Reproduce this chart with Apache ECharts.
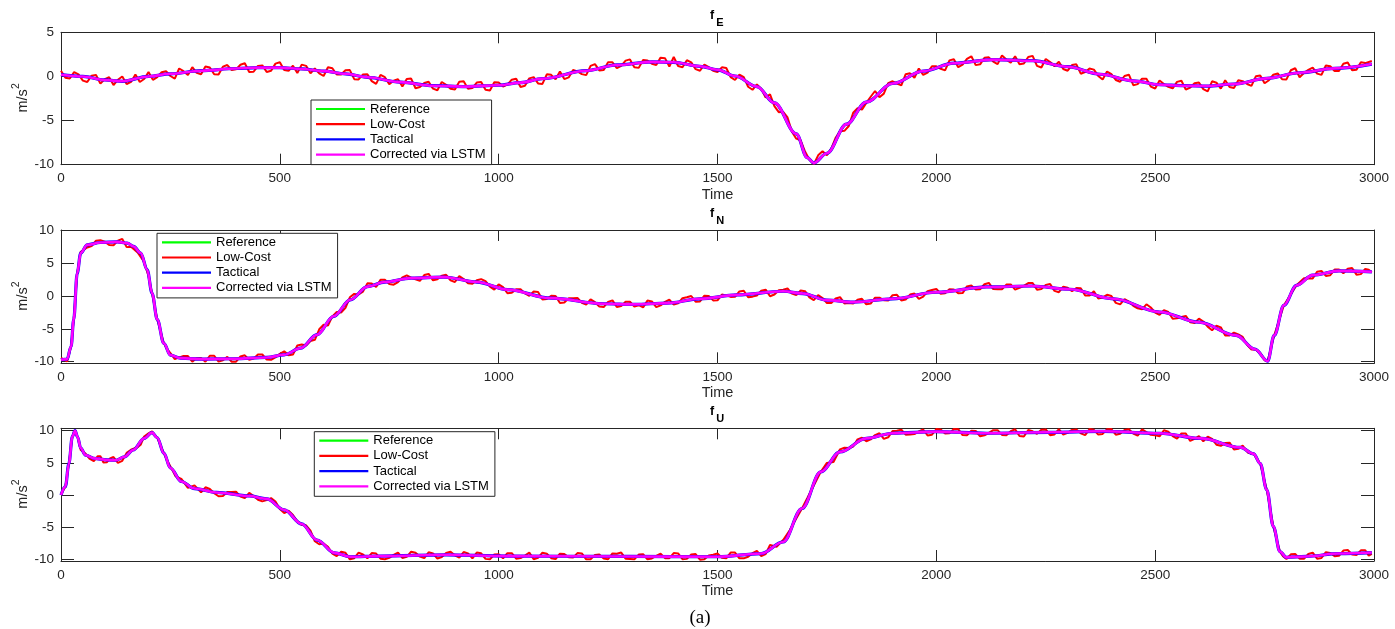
<!DOCTYPE html>
<html>
<head>
<meta charset="utf-8">
<script src="https://cdn.jsdelivr.net/npm/echarts@6.0.0/dist/echarts.min.js"></script>
<style>
  html, body { margin: 0; padding: 0; background: #ffffff; }
  #chart { width: 1395px; height: 629px; }
</style>
</head>
<body>
<div id="chart"></div>
<script>
// ---------------- DATA ----------------
const seriesNames = ['Reference', 'Low-Cost', 'Tactical', 'Corrected via LSTM'];
const panelTitles = [['f', 'E'], ['f', 'N'], ['f', 'U']];
const xTicks = [0, 500, 1000, 1500, 2000, 2500, 3000];
const yTicksE = [-10, -5, 0, 5];
const yTicksN = [-10, -5, 0, 5, 10];
const yTicksU = [-10, -5, 0, 5, 10];

// f_E : smooth reference trajectory (time, value)
const timeE = [0,50,100,140,200,250,320,400,450,500,550,600,650,700,775,850,925,1000,1050,1100,1200,1270,1350,1400,1460,1500,1540,1590,1630,1680,1705,1720,1750,1795,1840,1900,1970,2040,2130,2220,2300,2375,2450,2510,2565,2620,2680,2755,2830,2910,2995];
const fE_reference = [0.2,0.0,-0.4,-0.55,0.0,0.3,0.65,0.9,1.0,1.0,0.85,0.6,0.3,-0.1,-0.65,-1.05,-1.15,-1.0,-0.7,-0.25,0.65,1.3,1.65,1.6,1.15,0.75,0.05,-1.15,-3.0,-6.5,-9.2,-9.8,-8.7,-5.4,-2.9,-0.8,0.6,1.5,1.9,1.78,1.1,0.25,-0.5,-0.94,-1.05,-1.09,-0.86,-0.22,0.42,0.91,1.4];
const fE_tactical = fE_reference;
const fE_lstm = fE_reference;
// f_E : noisy low-cost IMU samples (time, value)
const fE_lowcost = [[0,0.65],[20,-0.23],[40,0.24],[60,-0.63],[80,0.16],[100,-0.3],[120,-0.98],[140,0.0],[160,-0.62],[180,-0.63],
[200,0.5],[220,-0.08],[240,0.59],[260,-0.25],[280,0.6],[300,1.05],[320,0.25],[340,1.01],[360,0.23],[380,1.29],
[400,0.8],[420,1.49],[440,0.53],[460,1.25],[480,0.65],[500,1.6],[520,0.64],[540,0.38],[560,1.2],[580,0.9],
[600,0.05],[620,0.93],[640,0.21],[660,0.72],[680,-0.34],[700,0.25],[720,-0.85],[740,-0.09],[760,-0.49],[780,-1.13],
[800,-0.24],[820,-1.19],[840,-0.6],[860,-1.56],[880,-0.94],[900,-1.47],[920,-0.55],[940,-1.32],[960,-0.63],[980,-1.59],
[1000,-0.7],[1020,-0.93],[1040,-0.26],[1060,-1.06],[1080,-0.08],[1100,-0.85],[1120,0.18],[1140,0.56],[1160,-0.11],[1180,0.57],
[1200,0.15],[1220,1.39],[1240,0.72],[1260,1.61],[1280,1.19],[1300,1.93],[1320,0.97],[1340,1.81],[1360,1.29],[1380,2.07],
[1400,2.2],[1420,1.05],[1440,1.6],[1460,0.65],[1480,1.05],[1500,0.5],[1520,0.95],[1540,-0.4],[1560,-0.08],[1580,-1.51],
[1600,-1.41],[1620,-2.04],[1640,-4.05],[1660,-4.65],[1680,-7.05],[1700,-8.51],[1720,-9.95],[1740,-8.47],[1760,-8.17],[1780,-6.2],
[1800,-5.62],[1820,-3.61],[1840,-3.0],[1860,-1.65],[1880,-1.95],[1900,-0.55],[1920,-1.0],[1940,0.35],[1960,0.9],[1980,0.43],
[2000,1.14],[2020,0.69],[2040,1.95],[2060,1.34],[2080,2.28],[2100,1.37],[2120,2.16],[2140,1.39],[2160,1.91],[2180,2.28],
[2200,1.46],[2220,2.33],[2240,1.01],[2260,1.64],[2280,1.67],[2300,0.65],[2320,1.37],[2340,0.5],[2360,0.77],[2380,-0.35],
[2400,0.25],[2420,-0.6],[2440,0.2],[2460,-0.87],[2480,-0.27],[2500,-1.37],[2520,-0.86],[2540,-1.35],[2560,-0.49],[2580,-1.26],
[2600,-0.68],[2620,-1.69],[2640,-0.71],[2660,-0.44],[2680,-1.31],[2700,-0.54],[2720,-1.07],[2740,0.1],[2760,-0.43],[2780,0.34],
[2800,-0.34],[2820,0.93],[2840,0.38],[2860,1.0],[2880,0.18],[2900,1.15],[2920,0.62],[2940,1.58],[2960,0.75],[2980,1.51],[2995,1.75]];
const fE_lowcost_mid = [[10,-0.14],[30,0.48],[50,-0.47],[70,0.09],[90,-0.82],[110,-0.09],[130,-0.37],[150,-0.86],[170,0.22],[190,-0.29],
[210,-0.39],[230,0.48],[250,0.05],[270,0.9],[290,0.15],[310,0.4],[330,1.13],[350,0.25],[370,1.11],[390,0.72],
[410,1.32],[430,0.51],[450,1.19],[470,0.5],[490,1.45],[510,0.72],[530,1.21],[550,1.34],[570,0.35],[590,0.35],
[610,1.04],[630,0.22],[650,0.69],[670,-0.31],[690,0.23],[710,-0.53],[730,0.18],[750,-0.87],[770,-0.31],[790,-0.29],
[810,-1.34],[830,-0.75],[850,-1.38],[870,-0.63],[890,-1.4],[910,-0.59],[930,-1.39],[950,-0.7],[970,-1.51],[990,-0.67],
[1010,-1.14],[1030,-0.37],[1050,-1.19],[1070,-0.22],[1090,-0.79],[1110,0.24],[1130,-0.33],[1150,-0.3],[1170,0.73],[1190,0.26],
[1210,1.2],[1230,0.68],[1250,1.62],[1270,0.93],[1290,1.79],[1310,1.03],[1330,1.87],[1350,1.43],[1370,2.13],[1390,1.11],
[1410,1.18],[1430,1.83],[1450,0.83],[1470,1.35],[1490,0.65],[1510,1.03],[1530,-0.07],[1550,0.21],[1570,-1.17],[1590,-0.91],
[1610,-2.38],[1630,-3.37],[1650,-4.0],[1670,-6.25],[1690,-7.23],[1710,-9.43],[1730,-8.94],[1750,-8.92],[1770,-6.94],[1790,-6.16],
[1810,-4.12],[1830,-3.76],[1850,-2.3],[1870,-2.35],[1890,-0.75],[1910,-0.8],[1930,0.25],[1950,-0.15],[1970,0.17],[1990,1.16],
[2010,0.87],[2030,1.82],[2050,1.05],[2070,1.99],[2090,1.28],[2110,2.12],[2130,1.68],[2150,2.38],[2170,1.55],[2190,1.37],
[2210,2.2],[2230,1.2],[2250,1.98],[2270,1.16],[2290,0.84],[2310,1.29],[2330,0.31],[2350,0.89],[2370,0.06],[2390,0.55],
[2410,-0.4],[2430,0.05],[2450,-0.99],[2470,-0.25],[2490,-1.15],[2510,-0.47],[2530,-1.18],[2550,-0.62],[2570,-1.5],[2590,-0.77],
[2610,-1.44],[2630,-0.55],[2650,-1.38],[2670,-1.2],[2690,-0.43],[2710,-0.86],[2730,0.01],[2750,-0.77],[2770,0.2],[2790,-0.32],
[2810,0.7],[2830,-0.09],[2850,0.74],[2870,0.32],[2890,1.24],[2910,0.61],[2930,1.43],[2950,0.69],[2970,1.61]];

// f_N
const timeN = [0,14,23,29,37,45,60,90,128,151,166,182,197,208,220,235,250,273,320,395,470,510,547,585,623,661,700,740,800,875,950,1020,1120,1240,1310,1385,1460,1545,1650,1695,1750,1810,1900,2000,2115,2220,2305,2405,2510,2600,2685,2728,2757,2772,2794,2823,2860,2920,2995];
const fN_reference = [-9.7,-9.6,-7.7,-3.6,3.4,6.5,7.75,8.1,8.2,8.0,7.5,6.5,3.95,0.4,-3.6,-7.2,-9.0,-9.45,-9.6,-9.55,-9.35,-8.95,-7.95,-5.9,-3.1,-0.6,1.4,2.1,2.7,2.85,2.1,0.95,-0.35,-1.2,-1.3,-1.1,-0.45,0.15,0.7,0.35,-0.65,-0.95,-0.45,0.55,1.35,1.5,1.0,-0.45,-2.45,-4.0,-6.0,-8.1,-9.9,-6.0,-1.45,1.6,3.15,3.8,3.65];
const fN_tactical = fN_reference;
const fN_lstm = fN_reference;
const fN_lowcost = [[0,-9.4],[14,-9.95],[23,-7.7],[29,-3.6],[37,3.4],[45,6.7],[60,7.35],[80,8.38],[100,8.23],[120,7.68],[140,8.65],[160,7.45],[175,6.6],[190,5.14],[200,2.98],[208,0.4],[215,-1.93],[220,-3.6],[228,-5.52],[235,-7.2],[242,-8.04],[250,-8.7],[260,-9.6],[280,-9.12],[300,-10.0],
[320,-9.45],[340,-9.09],[360,-9.98],[380,-9.26],[400,-10.0],[420,-9.03],[440,-9.53],[460,-8.9],[480,-9.7],[500,-8.8],[520,-9.03],[540,-7.54],[560,-7.55],[580,-6.67],[600,-4.39],[620,-3.12],[640,-2.53],[660,-0.22],[680,0.22],[700,1.9],
[720,1.35],[740,2.45],[760,1.7],[780,2.8],[800,2.75],[820,2.29],[840,3.33],[860,2.52],[880,3.2],[900,2.1],[920,2.55],[940,1.85],[960,2.54],[980,1.41],[1000,1.73],[1020,0.4],[1040,0.99],[1060,0.38],[1080,0.67],[1100,-0.54],
[1120,0.0],[1140,-1.09],[1160,-0.38],[1180,-0.33],[1200,-1.32],[1220,-0.96],[1240,-1.7],[1260,-0.68],[1280,-1.56],[1300,-0.89],[1320,-1.42],[1340,-0.72],[1360,-1.72],[1380,-0.91],[1400,-1.32],[1420,-0.35],[1440,-0.02],[1460,-0.85],[1480,-0.01],[1500,-0.67],
[1520,0.07],[1540,-0.14],[1560,0.78],[1580,-0.12],[1600,0.79],[1620,-0.06],[1640,0.85],[1660,1.12],[1680,0.12],[1700,0.71],[1720,-0.65],[1740,-0.32],[1760,-1.1],[1780,-0.2],[1800,-1.1],[1820,-0.59],[1840,-1.28],[1860,-0.27],[1880,-0.66],[1900,0.1],
[1920,-0.7],[1940,0.2],[1960,-0.45],[1980,0.7],[2000,1.05],[2020,0.39],[2040,0.98],[2060,0.42],[2080,1.56],[2100,1.0],[2120,1.96],[2140,0.99],[2160,1.71],[2180,0.94],[2200,1.53],[2220,1.95],[2240,1.03],[2260,1.81],[2280,0.55],[2300,1.23],
[2320,1.18],[2340,0.04],[2360,0.7],[2380,-0.24],[2400,-0.03],[2420,-1.29],[2440,-0.87],[2460,-1.9],[2480,-1.28],[2500,-2.56],[2520,-2.17],[2540,-3.47],[2560,-3.21],[2580,-4.01],[2600,-3.45],[2620,-4.67],[2640,-4.54],[2660,-6.01],[2680,-5.58],[2700,-6.23],
[2720,-8.16],[2728,-8.1],[2740,-8.69],[2750,-9.77],[2757,-9.9],[2765,-7.82],[2772,-6.0],[2780,-4.35],[2794,-1.45],[2808,0.02],[2823,1.6],[2840,2.66],[2860,2.65],[2880,3.77],[2900,3.13],[2920,4.0],[2940,4.11],[2960,3.22],[2980,4.08],[2995,3.55]];
const fN_lowcost_mid = [[70,7.57],[90,8.46],[110,7.71],[130,8.39],[150,7.4],
[290,-9.15],[310,-9.42],[330,-10.0],[350,-9.09],[370,-9.77],[390,-10.0],[410,-9.21],[430,-9.71],[450,-8.91],[470,-9.67],
[490,-9.35],[510,-8.42],[530,-8.91],[550,-7.4],[570,-6.86],[590,-5.08],[610,-4.51],[630,-2.45],[650,-1.83],[670,0.3],
[690,0.64],[710,1.88],[730,2.43],[750,1.8],[770,2.1],[790,3.1],[810,2.52],[830,3.16],[850,2.35],[870,3.06],
[890,2.35],[910,3.0],[930,1.9],[950,2.37],[970,2.23],[990,0.95],[1010,1.32],[1030,0.47],[1050,1.01],[1070,0.0],
[1090,0.59],[1110,-0.47],[1130,-0.02],[1150,-1.01],[1170,-0.36],[1190,-1.05],[1210,-0.54],[1230,-1.63],[1250,-0.92],[1270,-1.7],
[1290,-0.88],[1310,-1.63],[1330,-1.75],[1350,-0.85],[1370,-1.44],[1390,-0.59],[1410,-1.14],[1430,-0.21],[1450,-0.89],[1470,0.02],
[1490,-0.69],[1510,0.2],[1530,-0.16],[1550,0.67],[1570,-0.22],[1590,0.04],[1610,0.94],[1630,0.2],[1650,0.94],[1670,0.35],
[1690,0.82],[1710,-0.22],[1730,0.11],[1750,-1.09],[1770,-0.4],[1790,-1.15],[1810,-1.15],[1830,-0.44],[1850,-1.18],[1870,-0.27],
[1890,-0.71],[1910,0.15],[1930,-0.55],[1950,0.35],[1970,-0.1],[1990,0.9],[2010,0.32],[2030,1.01],[2050,0.4],[2070,1.44],
[2090,0.98],[2110,1.76],[2130,1.03],[2150,1.0],[2170,1.73],[2190,1.21],[2210,1.94],[2230,0.94],[2250,1.67],[2270,0.76],
[2290,1.39],[2310,0.71],[2330,1.14],[2350,0.05],[2370,-0.39],[2390,0.16],[2410,-1.06],[2430,-0.48],[2450,-1.51],[2470,-2.04],
[2490,-1.77],[2510,-2.89],[2530,-2.45],[2550,-3.39],[2570,-3.04],[2590,-4.13],[2610,-3.89],[2630,-5.21],[2650,-4.78],[2670,-6.0],
[2690,-5.86],[2710,-7.42],[2870,3.66],[2890,3.03],[2910,3.99],[2930,3.43],[2950,4.24],[2970,3.3],[2988,3.96]];

// f_U
const timeU = [0,10,18,26,32,38,45,56,75,105,125,145,165,190,208,220,235,250,275,305,355,430,470,510,550,585,625,660,730,880,1020,1300,1500,1600,1650,1693,1736,1780,1840,1900,2000,2115,2260,2380,2510,2605,2695,2725,2740,2755,2770,2785,2800,2845,2920,2995];
const fU_reference = [0,1.3,4.9,9.1,10.0,9.0,7.3,6.2,5.7,5.45,5.4,5.95,7.0,8.8,9.7,8.9,6.5,4.2,2.1,1.0,0.4,-0.15,-0.6,-2.3,-4.5,-7.0,-9.0,-9.6,-9.5,-9.3,-9.5,-9.55,-9.6,-9.1,-7.3,-2.1,3.6,6.7,8.8,9.6,9.85,9.6,9.75,9.9,9.6,8.8,7.4,6.4,4.9,0.8,-4.9,-8.8,-9.7,-9.55,-9.1,-8.95];
const fU_tactical = fU_reference;
const fU_lstm = fU_reference;
const fU_lowcost = [[0,0.1],[10,1.3],[18,4.9],[26,9.1],[32,10.0],[38,9.0],[45,7.0],[56,6.45],[75,5.25],[90,6.03],[105,5.1],[120,5.91],[140,5.31],[160,7.04],[175,7.42],[190,9.1],[200,9.6],[208,9.9],[214,9.3],[220,8.9],[228,7.62],[235,6.5],[242,5.43],[250,4.45],[262,2.89],
[275,2.5],[290,1.1],[305,1.5],[320,0.42],[340,0.93],[360,-0.19],[380,0.47],[400,0.52],[420,-0.48],[440,-0.16],[460,-0.99],[480,-0.48],[500,-2.18],[520,-2.45],[540,-4.1],[560,-4.71],[580,-7.19],[600,-7.55],[620,-9.1],[640,-8.81],
[660,-10.0],[680,-8.97],[700,-9.84],[720,-9.11],[740,-9.99],[760,-9.31],[780,-9.78],[800,-8.81],[820,-9.58],[840,-8.9],[860,-9.88],[880,-9.0],[900,-9.38],[920,-8.86],[940,-9.84],[960,-9.06],[980,-10.0],[1000,-9.22],[1020,-9.05],[1040,-9.9],
[1060,-9.41],[1080,-9.98],[1100,-8.97],[1120,-9.82],[1140,-9.12],[1160,-9.68],[1180,-9.03],[1200,-10.0],[1220,-9.34],[1240,-9.89],[1260,-9.09],[1280,-8.95],[1300,-9.95],[1320,-9.26],[1340,-10.0],[1360,-9.47],[1380,-9.82],[1400,-9.03],[1420,-9.98],[1440,-9.24],
[1460,-10.05],[1480,-9.4],[1500,-9.1],[1520,-9.85],[1540,-8.95],[1560,-9.85],[1580,-9.05],[1600,-9.5],[1620,-7.78],[1635,-8.04],[1650,-7.0],[1665,-5.49],[1680,-3.67],[1693,-2.1],[1705,-0.51],[1720,1.48],[1736,3.6],[1750,4.99],[1765,5.14],[1780,7.1],
[1800,7.3],[1820,8.65],[1840,8.35],[1860,9.32],[1880,8.73],[1900,9.95],[1920,10.15],[1940,9.4],[1960,9.9],[1980,9.25],[2000,10.25],[2020,9.56],[2040,10.25],[2060,9.32],[2080,9.98],[2100,9.13],[2120,9.66],[2140,10.08],[2160,9.3],[2180,10.22],
[2200,9.09],[2220,9.91],[2240,10.13],[2260,9.3],[2280,10.25],[2300,9.65],[2320,10.18],[2340,9.3],[2360,10.13],[2380,9.5],[2400,10.25],[2420,9.51],[2440,10.21],[2460,9.22],[2480,9.77],[2500,9.27],[2520,10.07],[2540,9.15],[2560,9.58],[2580,8.41],
[2600,9.14],[2620,9.07],[2640,7.81],[2660,8.09],[2680,7.08],[2700,7.68],[2712,6.58],[2725,6.4],[2732,5.7],[2740,4.9],[2748,2.71],[2755,0.8],[2762,-1.86],[2770,-4.9],[2778,-6.98],[2785,-8.8],[2792,-9.52],[2800,-9.95],[2820,-9.18],[2840,-9.92],
[2860,-8.96],[2880,-9.79],[2900,-9.02],[2920,-9.45],[2940,-8.56],[2960,-9.32],[2980,-8.58],[2995,-9.15]];
const fU_lowcost_mid = [[65,5.65],[84,6.03],[97,5.05],[112,5.68],[130,5.0],[150,6.55],[167,7.25],[182,7.8],
[330,1.2],[350,0.27],[370,-0.16],[390,0.45],[410,-0.25],[430,0.33],[450,-0.73],[470,-0.8],[490,-1.0],[510,-2.8],
[530,-3.1],[550,-4.65],[570,-5.53],[590,-7.65],[610,-8.05],[630,-9.5],[650,-8.98],[670,-9.83],[690,-9.25],[710,-9.02],
[730,-9.9],[750,-9.77],[770,-8.94],[790,-9.62],[810,-8.99],[830,-9.81],[850,-9.09],[870,-9.66],[890,-8.81],[910,-9.74],
[930,-9.07],[950,-8.95],[970,-9.93],[990,-9.25],[1010,-9.83],[1030,-9.05],[1050,-9.8],[1070,-8.96],[1090,-9.76],[1110,-9.12],
[1130,-9.97],[1150,-9.17],[1170,-9.73],[1190,-9.08],[1210,-10.0],[1230,-9.24],[1250,-9.99],[1270,-9.14],[1290,-9.9],[1310,-10.0],
[1330,-9.21],[1350,-9.86],[1370,-9.12],[1390,-9.82],[1410,-9.08],[1430,-9.93],[1450,-9.19],[1470,-10.0],[1490,-9.3],[1510,-9.75],
[1530,-8.95],[1550,-9.85],[1570,-9.6],[1590,-8.7],[1610,-9.2],
[1790,7.35],[1810,7.55],[1830,8.9],[1850,8.64],[1870,9.6],[1890,8.97],[1910,9.98],[1930,9.38],[1950,9.48],[1970,10.18],
[1990,9.38],[2010,10.18],[2030,9.59],[2050,10.24],[2070,9.3],[2090,9.96],[2110,9.27],[2130,10.07],[2150,9.34],[2170,9.91],
[2190,9.18],[2210,10.1],[2230,9.52],[2250,10.19],[2270,9.42],[2290,9.39],[2310,10.12],[2330,9.59],[2350,10.25],[2370,9.39],
[2390,10.23],[2410,9.38],[2430,10.09],[2450,9.54],[2470,10.2],[2490,9.35],[2510,9.12],[2530,9.84],[2550,8.77],[2570,9.55],
[2590,8.73],[2610,8.36],[2630,8.72],[2650,7.65],[2670,8.14],[2690,7.18],
[2810,-9.22],[2830,-9.9],[2850,-9.17],[2870,-9.9],[2890,-8.88],[2910,-9.51],[2930,-8.63],[2950,-9.24],[2970,-8.6],[2988,-9.42]];

// ---------------- LAYOUT / STYLE ----------------
const FONT = '"Liberation Sans", Arial, Helvetica, sans-serif';
const AX = '#262626';
const colors = ['#00ff00', '#ff0000', '#0000ff', '#ff00ff'];
const widths = [2, 2, 3.2, 2.6];
const grids = [
  { left: 61, top: 32.3, width: 1313, height: 132.4 },
  { left: 61, top: 230, width: 1313, height: 133.3 },
  { left: 61, top: 428.3, width: 1313, height: 132.7 }
];
const yRanges = [[-10, 5], [-10.24, 10], [-10.26, 10.37]];
const yTicks = [yTicksE, yTicksN, yTicksU];
const legendPos = [[311, 100], [157, 233.3], [314.3, 431.7]];

const byTime = (a, b) => a[0] - b[0];
const panels = [
  { t: timeE, ref: fE_reference, tac: fE_tactical, lstm: fE_lstm, low: fE_lowcost.concat(fE_lowcost_mid).sort(byTime) },
  { t: timeN, ref: fN_reference, tac: fN_tactical, lstm: fN_lstm, low: fN_lowcost.concat(fN_lowcost_mid).sort(byTime) },
  { t: timeU, ref: fU_reference, tac: fU_tactical, lstm: fU_lstm, low: fU_lowcost.concat(fU_lowcost_mid).sort(byTime) }
];
const zip = (t, v) => t.map((x, i) => [x, v[i]]);
const plain = v => String(v);

const xAxis = [], yAxis = [], series = [], legend = [], graphic = [];
grids.forEach((g, i) => {
  xAxis.push({
    type: 'value', gridIndex: i, position: 'bottom', min: 0, max: 3000, interval: 500,
    axisLine: { show: true, onZero: false, lineStyle: { color: AX, width: 1 } },
    axisTick: { show: true, inside: true, length: 11, lineStyle: { color: AX } },
    axisLabel: { show: true, color: AX, fontSize: 13.5, fontFamily: FONT, margin: 7, formatter: plain },
    splitLine: { show: false }
  });
  xAxis.push({
    type: 'value', gridIndex: i, position: 'top', min: 0, max: 3000, interval: 500,
    axisLine: { show: true, onZero: false, lineStyle: { color: AX, width: 1 } },
    axisTick: { show: true, inside: true, length: 11, lineStyle: { color: AX } },
    axisLabel: { show: false }, splitLine: { show: false }
  });
  yAxis.push({
    type: 'value', gridIndex: i, position: 'left', min: yRanges[i][0], max: yRanges[i][1],
    axisLine: { show: true, onZero: false, lineStyle: { color: AX, width: 1 } },
    axisTick: { show: true, inside: true, length: 13, lineStyle: { color: AX }, customValues: yTicks[i] },
    axisLabel: { show: true, color: AX, fontSize: 13.5, fontFamily: FONT, margin: 7, customValues: yTicks[i], formatter: plain },
    splitLine: { show: false }
  });
  yAxis.push({
    type: 'value', gridIndex: i, position: 'right', min: yRanges[i][0], max: yRanges[i][1],
    axisLine: { show: true, onZero: false, lineStyle: { color: AX, width: 1 } },
    axisTick: { show: true, inside: true, length: 13, lineStyle: { color: AX }, customValues: yTicks[i] },
    axisLabel: { show: false, customValues: yTicks[i] }, splitLine: { show: false }
  });

  const p = panels[i];
  const datas = [zip(p.t, p.ref), p.low, zip(p.t, p.tac), zip(p.t, p.lstm)];
  datas.forEach((d, k) => {
    series.push({
      type: 'line', name: seriesNames[k], data: d,
      xAxisIndex: 2 * i, yAxisIndex: 2 * i,
      showSymbol: false, symbol: 'none',
      smooth: k === 1 ? false : 0.35, smoothMonotone: 'x',
      lineStyle: { color: colors[k], width: widths[k] },
      itemStyle: { color: colors[k] },
      z: 2 + k, clip: false, silent: true, animation: false
    });
  });

  legend.push({
    orient: 'vertical', left: legendPos[i][0], top: legendPos[i][1],
    data: seriesNames.map((n, k) => ({ name: n, itemStyle: { color: colors[k] } })),
    icon: 'rect', itemWidth: 49, itemHeight: 2.2, itemGap: 2.2,
    padding: [2.5, 6, 3.5, 5],
    borderColor: AX, borderWidth: 1, backgroundColor: '#ffffff',
    textStyle: { fontFamily: FONT, fontSize: 13, color: '#000000', lineHeight: 12.5 },
    selectedMode: false, z: 20
  });

  const top = g.top, bottom = g.top + g.height, mid = g.top + g.height / 2;
  graphic.push({ type: 'text', x: 710, y: top - 16.3, z: 30,
    style: { text: panelTitles[i][0], fontFamily: FONT, fontSize: 12.5, fontWeight: 'bold', fill: '#000',
      textAlign: 'left', textVerticalAlign: 'middle', verticalAlign: 'middle' } });
  graphic.push({ type: 'text', x: 716.3, y: top - 9.3, z: 30,
    style: { text: panelTitles[i][1], fontFamily: FONT, fontSize: 11, fontWeight: 'bold', fill: '#000',
      textAlign: 'left', textVerticalAlign: 'middle', verticalAlign: 'middle' } });
  graphic.push({ type: 'text', x: 717.5, y: bottom + 30, z: 30,
    style: { text: 'Time', fontFamily: FONT, fontSize: 14.5, fill: AX,
      textAlign: 'center', textVerticalAlign: 'middle', verticalAlign: 'middle' } });
  graphic.push({ type: 'group', x: 23, y: mid, rotation: Math.PI / 2, z: 30, children: [
    { type: 'text', x: -14, y: 0,
      style: { text: 'm/s', fontFamily: FONT, fontSize: 14.5, fill: AX, textAlign: 'left', textVerticalAlign: 'middle', verticalAlign: 'middle' } },
    { type: 'text', x: 9.5, y: -6.5,
      style: { text: '2', fontFamily: FONT, fontSize: 10.5, fill: AX, textAlign: 'left', textVerticalAlign: 'middle', verticalAlign: 'middle' } }
  ] });
});
graphic.push({ type: 'text', x: 700, y: 618, z: 30,
  style: { text: '(a)', fontFamily: '"Liberation Serif", "Times New Roman", serif', fontSize: 19, fill: '#000',
    textAlign: 'center', textVerticalAlign: 'middle', verticalAlign: 'middle' } });

const chart = echarts.init(document.getElementById('chart'), null, { renderer: 'canvas', width: 1395, height: 629 });
chart.setOption({
  backgroundColor: '#ffffff',
  animation: false,
  grid: grids.map(g => Object.assign({ containLabel: false }, g)),
  xAxis, yAxis, series, legend, graphic
});
</script>
</body>
</html>
